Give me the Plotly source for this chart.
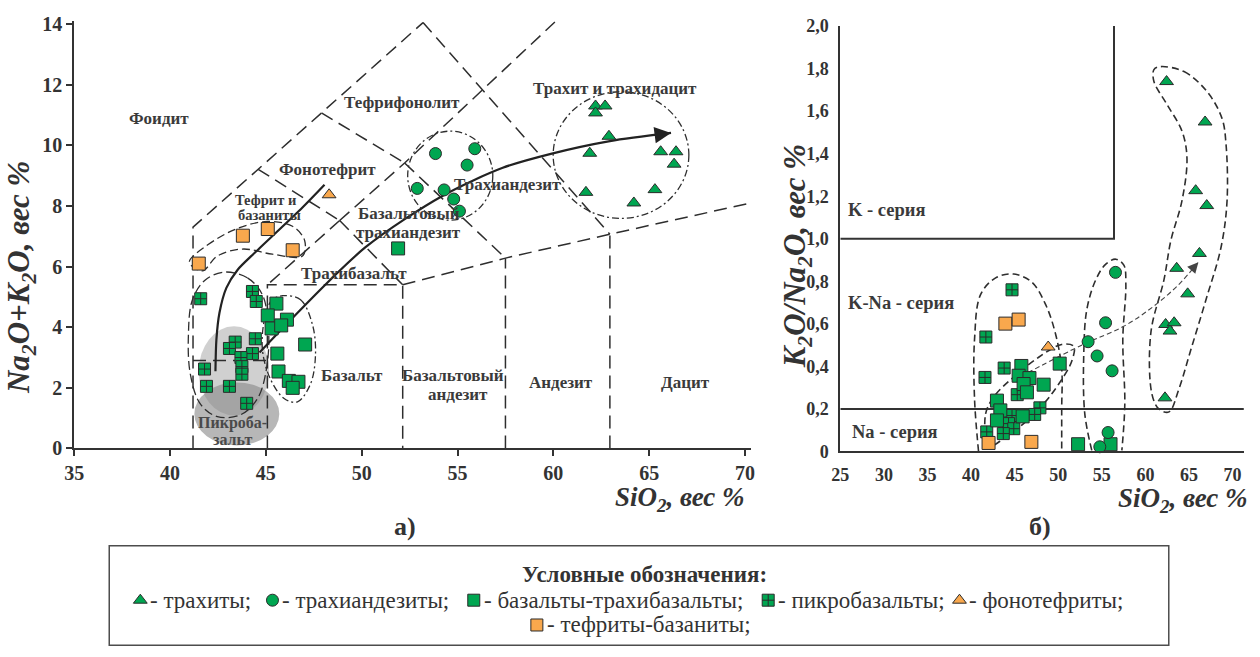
import plotly.graph_objects as go

W, H = 1260, 657
# The page keeps the browser's 8px body margin and is then fitted back into the
# window, so window pixels (wx, wy) are mapped onto figure pixels here.
BODY = 8
KX = (W + 2 * BODY) / W
KY = (H + 2 * BODY) / H

GREEN = "#00a651"
ORANGE = "#f9a84d"
EDGE = "#2b2b2b"
INK = "#333333"
SERIF = "Liberation Serif"


def px(wx):
    return (wx * KX - BODY) / W


def py(wy):
    return 1 - (wy * KY - BODY) / H


# ---------------- (а) TAS: SiO2 vs Na2O+K2O, wt % ----------------
tas_trachyte_sio2 = [62.2, 62.7, 62.2, 62.9, 61.9, 65.6, 66.4, 66.3, 61.7, 65.3, 64.2]
tas_trachyte_alk = [11.3, 11.3, 11.07, 10.3, 9.74, 9.79, 9.79, 9.38, 8.45, 8.54, 8.1]

tas_trachyandesite_sio2 = [53.85, 55.9, 55.5, 52.9, 54.3, 54.8, 55.1]
tas_trachyandesite_alk = [9.73, 9.89, 9.35, 8.58, 8.53, 8.23, 7.83]

tas_basalt_sio2 = [45.55, 45.1, 46.1, 45.3, 45.8, 47.05, 45.6, 45.66, 46.2, 46.7, 46.4, 51.9]
tas_basalt_alk = [4.78, 4.39, 4.25, 3.96, 4.06, 3.43, 3.13, 2.54, 2.23, 2.2, 2.0, 6.6]

tas_picro_sio2 = [41.6, 44.3, 44.5, 44.45, 43.4, 43.1, 44.3, 43.7, 43.75, 43.75, 41.8, 41.9, 43.1, 44.0]
tas_picro_alk = [4.94, 5.18, 4.85, 3.62, 3.51, 3.3, 3.13, 3.0, 2.7, 2.45, 2.62, 2.05, 2.05, 1.49]

tas_phonotephrite_sio2 = [48.3]
tas_phonotephrite_alk = [8.37]

tas_tephrite_sio2 = [41.5, 43.8, 45.1, 46.4]
tas_tephrite_alk = [6.1, 7.02, 7.24, 6.54]

# TAS field boundaries, polylines in (SiO2, Na2O+K2O)
tas_boundaries = [
    [(41.2, 0), (41.2, 7.3), (53.2, 14.05)],
    [(44.6, 9.21), (48.85, 7.52)],
    [(47.9, 11.07), (52.24, 9.42)],
    [(48.85, 7.52), (52.24, 9.42), (60.08, 14.07)],
    [(53.2, 14.05), (62.95, 7.07)],
    [(48.85, 7.52), (45.08, 5.4)],
    [(48.85, 7.52), (52.14, 5.4)],
    [(45.08, 0), (45.08, 5.4), (52.14, 5.4), (52.14, 0)],
    [(52.14, 5.4), (57.5, 6.28), (62.95, 7.07), (70.3, 8.1)],
    [(52.24, 9.42), (57.5, 6.28)],
    [(57.5, 0), (57.5, 6.28)],
    [(62.95, 0), (62.95, 7.07)],
    [(41.2, 2.9), (45.08, 2.9)],
]

# outlines around the rock groups
tas_tephrite_outline = [(41.01, 6.15), (41.95, 6.71), (43.52, 7.26), (45.08, 7.49), (46.39, 7.33),
                        (47.02, 6.87), (46.91, 6.35), (45.34, 6.41), (43.78, 6.58), (42.47, 6.35),
                        (41.69, 5.86)]
tas_picro_outline = [(42.84, 5.82), (44.04, 5.63), (44.82, 5.07), (45.14, 3.93), (45.03, 2.62),
                     (44.56, 1.64), (43.67, 1.11), (42.47, 1.05), (41.58, 1.47), (41.06, 2.45),
                     (40.96, 3.76), (41.17, 4.91), (41.84, 5.56)]
tas_basalt_outline = [(45.87, 5.04), (46.81, 4.91), (47.43, 4.09), (47.59, 3.11), (47.33, 2.13),
                      (46.65, 1.54), (45.97, 1.64), (45.24, 2.29), (44.82, 3.27), (44.98, 4.42),
                      (45.34, 4.91)]
# (x0, x1, y0, y1) boxes of the round outlines
tas_trachyandesite_ring = (52.40, 56.84, 7.53, 10.47)
tas_trachyte_ring = (59.99, 67.07, 7.59, 11.77)
tas_picro_field_light = (41.50, 45.17, 1.09, 4.03)
tas_picro_field_dark = (41.27, 45.70, 0.10, 2.18)

# evolution trends
tas_trend_short_sio2 = [42.37, 42.42, 42.58, 42.94, 43.52, 44.46, 46.91, 48.06]
tas_trend_short_alk = [2.55, 3.60, 4.48, 5.30, 5.89, 6.48, 7.95, 8.70]
tas_trend_long_sio2 = [44.67, 50.2, 54.23, 57.36, 59.87, 62.95, 66.14]
tas_trend_long_alk = [3.17, 6.64, 8.34, 9.26, 9.72, 10.14, 10.41]

tas_label_text = ["Фоидит", "Тефрифонолит", "Трахит и трахидацит", "Фонотефрит",
                  "Базальтовый", "трахиандезит", "Трахиандезит", "Трахибазальт",
                  "Базальт", "Базальтовый", "андезит", "Андезит", "Дацит"]
tas_label_sio2 = [39.4, 52.1, 63.2, 48.2, 52.45, 52.45, 57.6, 49.6, 49.5, 54.75, 55.0, 60.4, 66.9]
tas_label_alk = [10.9, 11.4, 11.87, 9.19, 7.75, 7.13, 8.7, 5.76, 2.42, 2.42, 1.77, 2.19, 2.19]

tas_small_label_text = ["Тефрит и", "базаниты"]
tas_small_label_sio2 = [45.0, 45.2]
tas_small_label_alk = [8.21, 7.69]

tas_picro_label_text = ["Пикроба-", "зальт"]
tas_picro_label_sio2 = [43.25, 43.25]
tas_picro_label_alk = [0.85, 0.29]

# ---------------- (б) SiO2 vs K2O/Na2O ----------------
kn_trachyte_sio2 = [62.43, 66.85, 65.77, 67.04, 66.2, 63.59, 64.85, 62.32, 63.3, 62.82, 62.25]
kn_trachyte_ratio = [1.739, 1.549, 1.226, 1.156, 0.931, 0.861, 0.741, 0.597, 0.605, 0.566, 0.252]

kn_trachyandesite_sio2 = [56.57, 55.43, 53.43, 54.46, 56.18, 55.72, 54.77]
kn_trachyandesite_ratio = [0.842, 0.605, 0.516, 0.449, 0.379, 0.089, 0.022]

kn_basalt_sio2 = [45.77, 45.46, 46.7, 46.03, 48.33, 46.41, 50.17, 42.97, 43.36, 42.97, 45.92, 52.28, 56.0]
kn_basalt_ratio = [0.402, 0.356, 0.345, 0.317, 0.314, 0.278, 0.413, 0.239, 0.193, 0.146, 0.165, 0.034, 0.034]

kn_picro_sio2 = [44.7, 41.7, 41.6, 43.8, 45.3, 47.9, 47.3, 44.7, 44.3, 44.9, 43.7, 41.8]
kn_picro_ratio = [0.76, 0.538, 0.348, 0.392, 0.267, 0.205, 0.174, 0.169, 0.131, 0.107, 0.084, 0.092]

kn_phonotephrite_sio2 = [48.85]
kn_phonotephrite_ratio = [0.491]

kn_tephrite_sio2 = [43.94, 45.46, 42.01, 46.92]
kn_tephrite_ratio = [0.601, 0.62, 0.04, 0.045]

# series boundaries
kn_k_series_sio2 = [25, 56.4, 56.4]
kn_k_series_ratio = [1.0, 1.0, 2.0]
kn_na_series_sio2 = [25, 71.3]
kn_na_series_ratio = [0.2, 0.2]

kn_series_text = ["K - серия", "K-Na - серия", "Na - серия"]
kn_series_sio2 = [25.6, 25.6, 26.1]
kn_series_ratio = [1.133, 0.699, 0.093]

# group outlines
kn_outline_a = [(40.86, 0.0), (40.40, 0.247), (40.40, 0.527), (41.09, 0.737), (42.82, 0.816),
                (44.89, 0.834), (46.95, 0.797), (48.56, 0.690), (49.71, 0.550), (50.40, 0.387),
                (50.40, 0.200), (50.40, 0.0)]
kn_outline_b = [(41.78, 0.061), (41.67, 0.177), (42.59, 0.256), (44.89, 0.350), (47.76, 0.443),
                (50.40, 0.503), (51.78, 0.494), (51.55, 0.424), (50.06, 0.317), (48.33, 0.224),
                (46.03, 0.131), (43.74, 0.061), (42.36, 0.028)]
kn_outline_c = [(53.85, 0.005), (53.05, 0.177), (52.93, 0.457), (53.28, 0.667), (54.31, 0.807),
                (55.46, 0.881), (56.61, 0.904), (57.53, 0.876), (57.76, 0.783), (57.41, 0.527),
                (57.64, 0.224), (57.30, 0.005)]
kn_outline_d = [(61.67, 1.809), (64.43, 1.786), (67.07, 1.692), (68.79, 1.566), (69.25, 1.445),
                (69.37, 1.179), (68.68, 0.960), (66.95, 0.713), (65.23, 0.480), (63.85, 0.294),
                (62.70, 0.186), (61.55, 0.200), (60.75, 0.270), (60.63, 0.559), (62.13, 0.807),
                (62.93, 0.993), (64.20, 1.179), (64.77, 1.380), (64.20, 1.506), (62.47, 1.632),
                (60.98, 1.739), (60.98, 1.795)]

kn_trend_sio2 = [46.5, 52.85, 57.45, 60.9, 63.78, 66.08]
kn_trend_ratio = [0.37, 0.503, 0.587, 0.681, 0.783, 0.890]

# ---------------- legend ----------------
legend_title = "Условные обозначения:"
legend_names = ["- трахиты;", "- трахиандезиты;", "- базальты-трахибазальты;",
                "- пикробазальты;", "- фонотефриты;", "- тефриты-базаниты;"]
legend_symbols = ["triangle-up", "circle", "square", "square-cross", "triangle-up", "square"]
legend_colors = [GREEN, GREEN, GREEN, GREEN, ORANGE, ORANGE]
# key positions in window pixels
legend_key_x = [138, 270, 471, 765, 956, 534]
legend_key_y = [603, 603, 603, 603, 603, 628]


def polylines_xy(lines):
    xs, ys = [], []
    for line in lines:
        for x, y in line:
            xs.append(x)
            ys.append(y)
        xs.append(None)
        ys.append(None)
    return xs, ys


def loop_xy(points, close=True):
    pts = list(points) + ([points[0]] if close else [])
    return [p[0] for p in pts], [p[1] for p in pts]


def marker(symbol, color, size):
    return dict(symbol=symbol, color=color, size=size, line=dict(color=EDGE, width=1))


def arrow_head(xs, ys, xr, yr, color, width, size):
    x1, y1, x0, y0 = xs[-1], ys[-1], xs[-2], ys[-2]
    return dict(x=x1, y=y1, ax=x1 - 0.2 * (x1 - x0), ay=y1 - 0.2 * (y1 - y0),
                xref=xr, yref=yr, axref=xr, ayref=yr, text="", showarrow=True,
                arrowhead=2, arrowsize=size, arrowwidth=width, arrowcolor=color, standoff=0)


def label(text, x, y, xref, yref, font, xanchor="center", **kw):
    return dict(text=text, x=x, y=y, xref=xref, yref=yref, showarrow=False,
                xanchor=xanchor, yanchor="middle", font=font, **kw)


fig = go.Figure()

# ---- panel (а) ----
bx, by = polylines_xy(tas_boundaries)
fig.add_trace(go.Scatter(x=bx, y=by, mode="lines", xaxis="x", yaxis="y",
                         line=dict(color="#2e2e2e", width=1.5, dash="13px,7px"), hoverinfo="skip"))

for pts, dash in [(tas_tephrite_outline, "8px,4px"), (tas_picro_outline, "9px,4px"),
                  (tas_basalt_outline, "7px,3px,2px,3px")]:
    lx, ly = loop_xy(pts)
    fig.add_trace(go.Scatter(x=lx, y=ly, mode="lines", xaxis="x", yaxis="y",
                             line=dict(color="#2e2e2e", width=1.3, dash=dash, shape="spline",
                                       smoothing=1.0), hoverinfo="skip"))

for tx, ty in [(tas_trend_short_sio2, tas_trend_short_alk), (tas_trend_long_sio2, tas_trend_long_alk)]:
    fig.add_trace(go.Scatter(x=tx, y=ty, mode="lines", xaxis="x", yaxis="y", hoverinfo="skip",
                             line=dict(color="#222222", width=2.2, shape="spline", smoothing=0.8)))

tas_groups = [
    (tas_picro_sio2, tas_picro_alk, "square-cross", GREEN, 12),
    (tas_basalt_sio2, tas_basalt_alk, "square", GREEN, 13),
    (tas_tephrite_sio2, tas_tephrite_alk, "square", ORANGE, 13),
    (tas_phonotephrite_sio2, tas_phonotephrite_alk, "triangle-up", ORANGE, 12),
    (tas_trachyandesite_sio2, tas_trachyandesite_alk, "circle", GREEN, 12),
    (tas_trachyte_sio2, tas_trachyte_alk, "triangle-up", GREEN, 12),
]
for gx, gy, sym, col, sz in tas_groups:
    fig.add_trace(go.Scatter(x=gx, y=gy, mode="markers", xaxis="x", yaxis="y",
                             marker=marker(sym, col, sz), cliponaxis=False, hoverinfo="skip"))

# ---- panel (б) ----
for kx, ky in [(kn_k_series_sio2, kn_k_series_ratio), (kn_na_series_sio2, kn_na_series_ratio)]:
    fig.add_trace(go.Scatter(x=kx, y=ky, mode="lines", xaxis="x2", yaxis="y2", hoverinfo="skip",
                             line=dict(color=INK, width=2)))

for pts, close in [(kn_outline_a, False), (kn_outline_b, True), (kn_outline_c, False),
                   (kn_outline_d, True)]:
    lx, ly = loop_xy(pts, close)
    fig.add_trace(go.Scatter(x=lx, y=ly, mode="lines", xaxis="x2", yaxis="y2", hoverinfo="skip",
                             line=dict(color="#2e2e2e", width=1.6, dash="7px,4px",
                                       shape="spline", smoothing=1.0)))

fig.add_trace(go.Scatter(x=kn_trend_sio2, y=kn_trend_ratio, mode="lines", xaxis="x2", yaxis="y2",
                         hoverinfo="skip",
                         line=dict(color="#444444", width=1.1, dash="5px,3px", shape="spline")))

kn_groups = [
    (kn_picro_sio2, kn_picro_ratio, "square-cross", GREEN, 12),
    (kn_basalt_sio2, kn_basalt_ratio, "square", GREEN, 13),
    (kn_tephrite_sio2, kn_tephrite_ratio, "square", ORANGE, 13),
    (kn_phonotephrite_sio2, kn_phonotephrite_ratio, "triangle-up", ORANGE, 12),
    (kn_trachyandesite_sio2, kn_trachyandesite_ratio, "circle", GREEN, 12),
    (kn_trachyte_sio2, kn_trachyte_ratio, "triangle-up", GREEN, 12),
]
for gx, gy, sym, col, sz in kn_groups:
    fig.add_trace(go.Scatter(x=gx, y=gy, mode="markers", xaxis="x2", yaxis="y2",
                             marker=marker(sym, col, sz), cliponaxis=False, hoverinfo="skip"))

# ---- legend keys (window-pixel overlay) ----
fig.add_trace(go.Scatter(x=legend_key_x, y=legend_key_y, mode="markers", xaxis="x3", yaxis="y3",
                         hoverinfo="skip",
                         marker=dict(symbol=legend_symbols, color=legend_colors, size=12,
                                     line=dict(color=EDGE, width=1))))

# ---------------- shapes ----------------
shapes = []
for (x0, x1, y0, y1), fill in [(tas_picro_field_light, "rgba(200,200,200,0.85)"),
                               (tas_picro_field_dark, "rgba(135,135,135,0.6)")]:
    shapes.append(dict(type="circle", xref="x", yref="y", x0=x0, x1=x1, y0=y0, y1=y1,
                       fillcolor=fill, line=dict(width=0), layer="below"))
for x0, x1, y0, y1 in [tas_trachyandesite_ring, tas_trachyte_ring]:
    shapes.append(dict(type="circle", xref="x", yref="y", x0=x0, x1=x1, y0=y0, y1=y1,
                       line=dict(color="#2e2e2e", width=1.3, dash="7px,3px,2px,3px"), layer="above"))
shapes.append(dict(type="rect", xref="paper", yref="paper", x0=px(107), x1=px(1165),
                   y0=max(py(650), 0.001), y1=py(548), line=dict(color="#4d4d4d", width=1.5)))

# ---------------- annotations ----------------
ann = []
lab_font = dict(family=SERIF, size=17, color="#3a3a3a", weight="bold")
for t, x, y in zip(tas_label_text, tas_label_sio2, tas_label_alk):
    ann.append(label(t, x, y, "x", "y", lab_font))
for t, x, y in zip(tas_small_label_text, tas_small_label_sio2, tas_small_label_alk):
    ann.append(label(t, x, y, "x", "y",
                     dict(family=SERIF, size=14.5, color="#3a3a3a", weight="bold")))
for t, x, y in zip(tas_picro_label_text, tas_picro_label_sio2, tas_picro_label_alk):
    ann.append(label(t, x, y, "x", "y",
                     dict(family=SERIF, size=16, color="#4a4a4a", weight="bold")))
for t, x, y in zip(kn_series_text, kn_series_sio2, kn_series_ratio):
    ann.append(label(t, x, y, "x2", "y2",
                     dict(family=SERIF, size=18.5, color="#3a3a3a", weight="bold"), xanchor="left"))

ann.append(arrow_head(tas_trend_short_sio2, tas_trend_short_alk, "x", "y", "#222222", 2.2, 1.5))
ann.append(arrow_head(tas_trend_long_sio2, tas_trend_long_alk, "x", "y", "#222222", 2.2, 1.5))
ann.append(arrow_head(kn_trend_sio2, kn_trend_ratio, "x2", "y2", "#444444", 1.2, 1.8))

ytitle_font = dict(family=SERIF, size=31, color=INK)
xtitle_font = dict(family=SERIF, size=27, color=INK)
ann += [
    label("<b><i>Na<sub>2</sub>O+K<sub>2</sub>O, вес %</i></b>", px(19), py(278), "paper", "paper",
          ytitle_font, textangle=-90),
    label("<b><i>K<sub>2</sub>O/Na<sub>2</sub>O, вес %</i></b>", px(794), py(256), "paper", "paper",
          ytitle_font, textangle=-90),
    label("<b><i>SiO<sub>2</sub>, вес %</i></b>", px(744), py(501), "paper", "paper",
          xtitle_font, xanchor="right"),
    label("<b><i>SiO<sub>2</sub>, вес %</i></b>", px(1246), py(502), "paper", "paper",
          xtitle_font, xanchor="right"),
    label("<b>а)</b>", px(402), py(529), "paper", "paper", dict(family=SERIF, size=26, color=INK)),
    label("<b>б)</b>", px(1036), py(529), "paper", "paper", dict(family=SERIF, size=26, color=INK)),
    label("<b>" + legend_title + "</b>", 641, 577, "x3", "y3", dict(family=SERIF, size=23, color=INK)),
]
for name, kx, ky in zip(legend_names, legend_key_x, legend_key_y):
    ann.append(label(name, kx + 8, ky, "x3", "y3", dict(family=SERIF, size=23, color=INK),
                     xanchor="left"))

axis_common = dict(showline=True, linewidth=2, linecolor=INK, showgrid=False, zeroline=False,
                   fixedrange=True)
left_tick_font = dict(family=SERIF, size=20, color=INK, weight="bold")
right_tick_font = dict(family=SERIF, size=18, color=INK, weight="bold")

kn_ticks = [round(0.2 * i, 1) for i in range(11)]
kn_ticktext = ["0"] + [f"{v:.1f}".replace(".", ",") for v in kn_ticks[1:]]

fig.update_layout(
    width=W, height=H, margin=dict(l=0, r=0, t=0, b=0),
    paper_bgcolor="white", plot_bgcolor="rgba(0,0,0,0)", showlegend=False,
    xaxis=dict(domain=[px(72), px(747.6)], range=[35, 70.3], anchor="y",
               tickvals=list(range(35, 71, 5)), ticks="outside", ticklen=6, tickwidth=2,
               tickcolor=INK, tickfont=left_tick_font, **axis_common),
    yaxis=dict(domain=[py(450), py(19)], range=[0, 14.1], anchor="x",
               tickvals=list(range(0, 15, 2)), ticks="outside", ticklen=6, tickwidth=2,
               tickcolor=INK, tickfont=left_tick_font, **axis_common),
    xaxis2=dict(domain=[px(837), px(1240)], range=[25, 71.3], anchor="y2",
                tickvals=list(range(25, 71, 5)), ticks="", ticklabelstandoff=6,
                tickfont=right_tick_font, **axis_common),
    yaxis2=dict(domain=[py(453), py(24)], range=[0, 2.0], anchor="x2",
                tickvals=kn_ticks, ticktext=kn_ticktext, ticks="", ticklabelstandoff=6,
                tickfont=right_tick_font, **axis_common),
    # overlay whose data units are window pixels
    xaxis3=dict(domain=[0, 1], range=[BODY / KX, (W + BODY) / KX], visible=False,
                fixedrange=True, anchor="y3"),
    yaxis3=dict(domain=[0, 1], range=[(H + BODY) / KY, BODY / KY], visible=False,
                fixedrange=True, anchor="x3"),
    shapes=shapes, annotations=ann,
)

fig.write_html("out.html")
